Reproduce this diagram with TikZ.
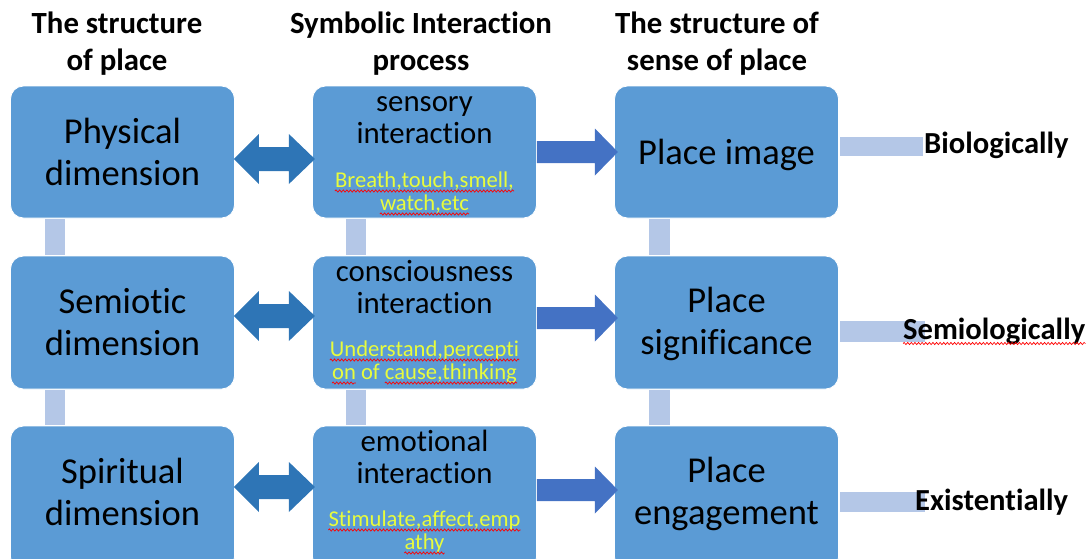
\documentclass[tikz,border=0pt]{standalone}
\usepackage{fontspec}
\setmainfont{Carlito}[Ligatures={NoCommon}]
\usetikzlibrary{calc,decorations.pathmorphing}
\definecolor{boxblue}{HTML}{5B9BD5}
\definecolor{dblue}{HTML}{2E75B6}
\definecolor{rblue}{HTML}{4472C4}
\definecolor{barblue}{HTML}{B4C7E7}
\definecolor{ytext}{RGB}{232,252,60}
\pgfdeclarelayer{bg}
\pgfsetlayers{bg,main}
\begin{document}
\begin{tikzpicture}[x=1pt,y=-1pt,
  box/.style={draw=white,line width=0.8pt,fill=boxblue,rounded corners=13pt,inner sep=0pt,minimum width=224pt},
  big/.style={font=\fontsize{36.5}{40}\selectfont,anchor=base,inner sep=0pt},
  mid/.style={font=\fontsize{30.8}{32}\selectfont,anchor=base,inner sep=0pt},
  small/.style={font=\fontsize{22.6}{23}\selectfont,text=ytext,anchor=base,inner sep=0pt},
  head/.style={font=\fontsize{30.8}{37}\selectfont\bfseries,anchor=base,inner sep=0pt},
  side/.style={font=\fontsize{30.6}{35}\selectfont\bfseries,anchor=base west,inner sep=0pt},
  dbl/.style={fill=dblue},
  rarr/.style={fill=rblue},
  bar/.style={fill=barblue},
  wave/.style={draw=red,line width=0.7pt,decorate,decoration={snake,segment length=3.6pt,amplitude=1.1pt}}]
\useasboundingbox (0,0) rectangle (1091,558);

% headers
\node[head] (h1a) at (117,33) {The structure};
\node[head] (h1b) at (117,70) {of place};
\node[head] (h2a) at (421,33) {Symbolic Interaction};
\node[head] (h2b) at (421,70) {process};
\node[head] (h3a) at (717,33) {The structure of};
\node[head] (h3b) at (717,70) {sense of place};

% boxes
\node[box,minimum height=132pt] (p1) at (122.5,152) {};
\node[box,minimum height=132pt] (s1) at (424.5,152) {};
\node[box,minimum height=132pt] (q1) at (726.5,152) {};
\node[box,minimum height=133pt] (p2) at (122.5,322.5) {};
\node[box,minimum height=133pt] (s2) at (424.5,322.5) {};
\node[box,minimum height=133pt] (q2) at (726.5,322.5) {};
\node[box,minimum height=144pt] (p3) at (122.5,498) {};
\node[box,minimum height=144pt] (s3) at (424.5,498) {};
\node[box,minimum height=144pt] (q3) at (726.5,498) {};

% vertical bars
\fill[bar] ($(p1.south west)+(35,0.4)$) rectangle ($(p2.north west)+(55,-0.4)$);
\fill[bar] ($(p2.south west)+(35,0.4)$) rectangle ($(p3.north west)+(55,-0.4)$);
\fill[bar] ($(s1.south west)+(34,0.4)$) rectangle ($(s2.north west)+(54,-0.4)$);
\fill[bar] ($(s2.south west)+(34,0.4)$) rectangle ($(s3.north west)+(54,-0.4)$);
\fill[bar] ($(q1.south west)+(35,0.4)$) rectangle ($(q2.north west)+(56,-0.4)$);
\fill[bar] ($(q2.south west)+(35,0.4)$) rectangle ($(q3.north west)+(56,-0.4)$);

% double arrows
\foreach \l/\yy in {p1/159, p2/316, p3/487}{
  \fill[dbl] ($(\l.east |- 0,\yy)+(-1,0)$) -- ++(25,-25) -- ++(0,13) -- ++(30,0) -- ++(0,-13)
     -- ++(26,25) -- ++(-26,25) -- ++(0,-13) -- ++(-30,0) -- ++(0,13) -- cycle;
}
% right arrows
\foreach \l/\yy in {s1/152, s2/318, s3/490}{
  \fill[rarr] ($(\l.east |- 0,\yy)+(0,-11)$) -- ++(58,0) -- ++(0,-12.5) -- ++(23,23.5)
     -- ++(-23,23.5) -- ++(0,-12.5) -- ++(-58,0) -- cycle;
}

% side labels and bars
\node[side] (bio) at (924,153) {Biologically};
\node[side] (sem) at (903,339) {Semiologically};
\node[side] (exi) at (915,510) {Existentially};
\draw[wave] ($(sem.base west)+(0,4.5)$) -- ($(sem.base east)+(0,4.5)$);
\begin{pgfonlayer}{bg}
\fill[bar] ($(q1.east |- 0,137)+(1.5,0)$) rectangle ++(83,19);
\fill[bar] ($(q2.east |- 0,321)+(1.5,0)$) rectangle ++(85,21);
\fill[bar] ($(q3.east |- 0,492)+(1.5,0)$) rectangle ++(85,20);
\end{pgfonlayer}

% column 1 texts
\node[big] (p1a) at (122.5,143) {Physical};
\node[big] (p1b) at (122.5,185) {dimension};
\node[big] (p2a) at (122.5,313) {Semiotic};
\node[big] (p2b) at (122.5,355) {dimension};
\node[big] (p3a) at (122.5,483) {Spiritual};
\node[big] (p3b) at (122.5,525) {dimension};

% column 2 texts
\node[mid] (s1a) at (424.5,111) {sensory};
\node[mid] (s1b) at (424.5,143) {interaction};
\node[small] (y1a) at (424.5,187) {Breath,touch,smell,};
\node[small] (y1b) at (424.5,210) {watch,etc};
\node[mid] (s2a) at (424.5,281) {consciousness};
\node[mid] (s2b) at (424.5,313) {interaction};
\node[small] (y2a) at (424.5,356) {Understand,percepti};
\node[small] (y2b) at (424.5,379) {on of cause,thinking};
\node[mid] (s3a) at (424.5,451) {emotional};
\node[mid] (s3b) at (424.5,483) {interaction};
\node[small] (y3a) at (424.5,526) {Stimulate,affect,emp};
\node[small] (y3b) at (424.5,549) {athy};
\foreach \n in {y1a,y1b,y2a,y3a,y3b}{
  \draw[wave] ($(\n.base west)+(0,4)$) -- ($(\n.base east)+(0,4)$);
}
\draw[wave] ($(y2b.base west)+(0,4)$) -- ++(23.8,0);
\draw[wave] ($(y2b.base west)+(52.8,4)$) -- ($(y2b.base east)+(0,4)$);

% column 3 texts
\node[big] (q1a) at (726.5,164) {Place image};
\node[big] (q2a) at (726.5,312) {Place};
\node[big] (q2b) at (726.5,354) {significance};
\node[big] (q3a) at (726.5,482) {Place};
\node[big] (q3b) at (726.5,524) {engagement};
\end{tikzpicture}
\end{document}
